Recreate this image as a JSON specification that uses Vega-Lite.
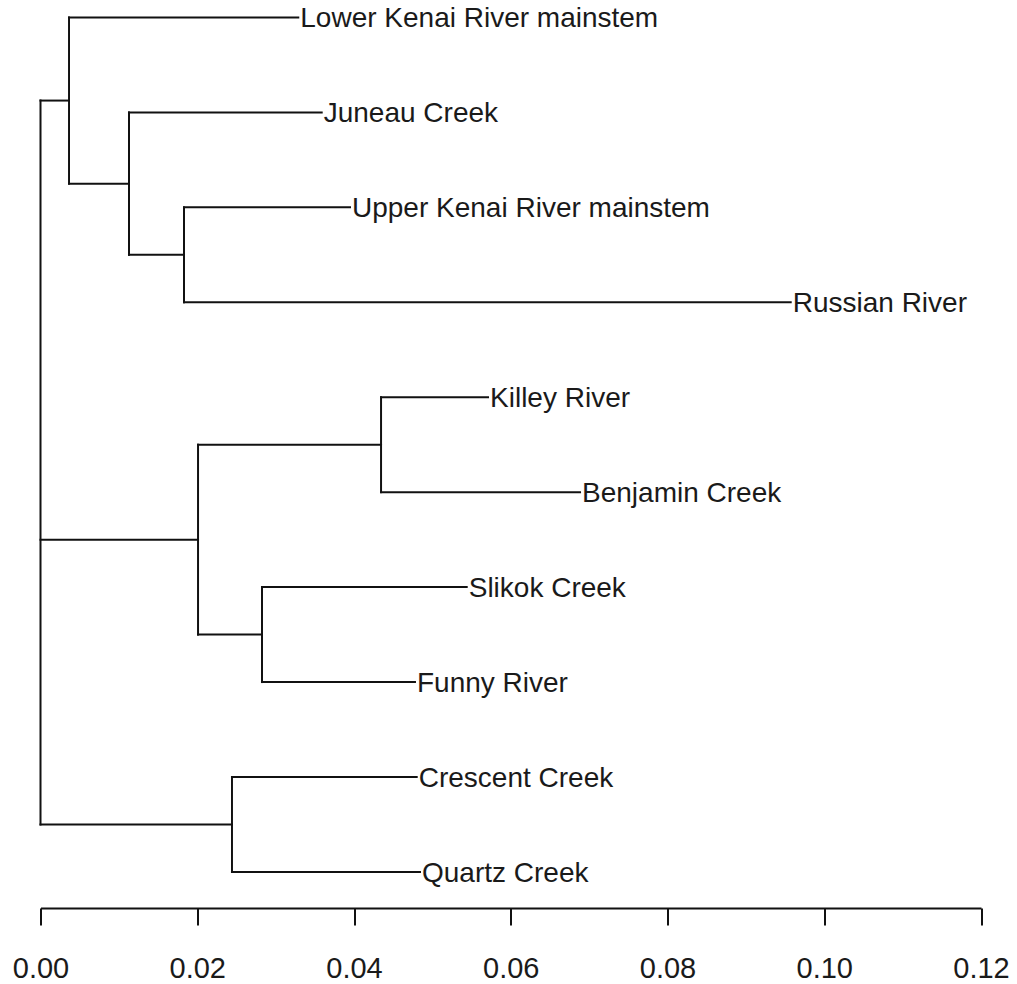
{
  "$schema": "https://vega.github.io/schema/vega-lite/v6.json",
  "autosize": {"type": "none"},
  "padding": {"left": 40.5, "top": 0, "right": 36, "bottom": 76},
  "width": 940.5,
  "height": 908,
  "background": "white",
  "config": {"view": {"stroke": null}, "font": "Liberation Sans"},
  "datasets": {
    "segments": [
      {"x1": 0.00364, "x2": 0.03289, "y1": 1, "y2": 1},
      {"x1": 0.01129, "x2": 0.03588, "y1": 2, "y2": 2},
      {"x1": 0.01831, "x2": 0.03949, "y1": 3, "y2": 3},
      {"x1": 0.01831, "x2": 0.09572, "y1": 4, "y2": 4},
      {"x1": 0.04345, "x2": 0.05710, "y1": 5, "y2": 5},
      {"x1": 0.04345, "x2": 0.06884, "y1": 6, "y2": 6},
      {"x1": 0.02826, "x2": 0.05438, "y1": 7, "y2": 7},
      {"x1": 0.02826, "x2": 0.04778, "y1": 8, "y2": 8},
      {"x1": 0.02443, "x2": 0.04800, "y1": 9, "y2": 9},
      {"x1": 0.02443, "x2": 0.04842, "y1": 10, "y2": 10},
      {"x1": 0, "x2": 0.00364, "y1": 1.875, "y2": 1.875},
      {"x1": 0.00364, "x2": 0.01129, "y1": 2.75, "y2": 2.75},
      {"x1": 0.01129, "x2": 0.01831, "y1": 3.5, "y2": 3.5},
      {"x1": 0, "x2": 0.02010, "y1": 6.5, "y2": 6.5},
      {"x1": 0.02010, "x2": 0.04345, "y1": 5.5, "y2": 5.5},
      {"x1": 0.02010, "x2": 0.02826, "y1": 7.5, "y2": 7.5},
      {"x1": 0, "x2": 0.02443, "y1": 9.5, "y2": 9.5},
      {"x1": 0, "x2": 0, "y1": 1.875, "y2": 9.5},
      {"x1": 0.00364, "x2": 0.00364, "y1": 1, "y2": 2.75},
      {"x1": 0.01129, "x2": 0.01129, "y1": 2, "y2": 3.5},
      {"x1": 0.01831, "x2": 0.01831, "y1": 3, "y2": 4},
      {"x1": 0.02010, "x2": 0.02010, "y1": 5.5, "y2": 7.5},
      {"x1": 0.04345, "x2": 0.04345, "y1": 5, "y2": 6},
      {"x1": 0.02826, "x2": 0.02826, "y1": 7, "y2": 8},
      {"x1": 0.02443, "x2": 0.02443, "y1": 9, "y2": 10}
    ],
    "leaves": [
      {"name": "Lower Kenai River mainstem", "x": 0.03289, "y": 1},
      {"name": "Juneau Creek", "x": 0.03588, "y": 2},
      {"name": "Upper Kenai River mainstem", "x": 0.03949, "y": 3},
      {"name": "Russian River", "x": 0.09572, "y": 4},
      {"name": "Killey River", "x": 0.05710, "y": 5},
      {"name": "Benjamin Creek", "x": 0.06884, "y": 6},
      {"name": "Slikok Creek", "x": 0.05438, "y": 7},
      {"name": "Funny River", "x": 0.04778, "y": 8},
      {"name": "Crescent Creek", "x": 0.04800, "y": 9},
      {"name": "Quartz Creek", "x": 0.04842, "y": 10}
    ]
  },
  "layer": [
    {
      "data": {"name": "segments"},
      "mark": {"type": "rule", "color": "#111111", "strokeWidth": 2, "strokeCap": "square"},
      "encoding": {
        "x": {
          "field": "x1", "type": "quantitative",
          "scale": {"domain": [0, 0.12], "nice": false, "zero": false},
          "axis": {
            "title": null, "values": [0, 0.02, 0.04, 0.06, 0.08, 0.1, 0.12],
            "format": ".2f", "grid": false,
            "domainColor": "#111111", "domainWidth": 2,
            "tickColor": "#111111", "tickWidth": 2, "tickSize": 17,
            "labelFontSize": 29, "labelColor": "#1a1a1a", "labelPadding": 29,
            "labelFont": "Liberation Sans", "labelFlush": false
          }
        },
        "x2": {"field": "x2"},
        "y": {
          "field": "y1", "type": "quantitative",
          "scale": {"domain": [0.8157, 10.38], "reverse": true, "nice": false, "zero": false},
          "axis": null
        },
        "y2": {"field": "y2"}
      }
    },
    {
      "data": {"name": "leaves"},
      "mark": {"type": "text", "align": "left", "baseline": "middle", "dx": 2, "dy": 2, "fontSize": 28, "color": "#1a1a1a", "font": "Liberation Sans"},
      "encoding": {
        "x": {"field": "x", "type": "quantitative"},
        "y": {"field": "y", "type": "quantitative"},
        "text": {"field": "name"}
      }
    }
  ]
}
